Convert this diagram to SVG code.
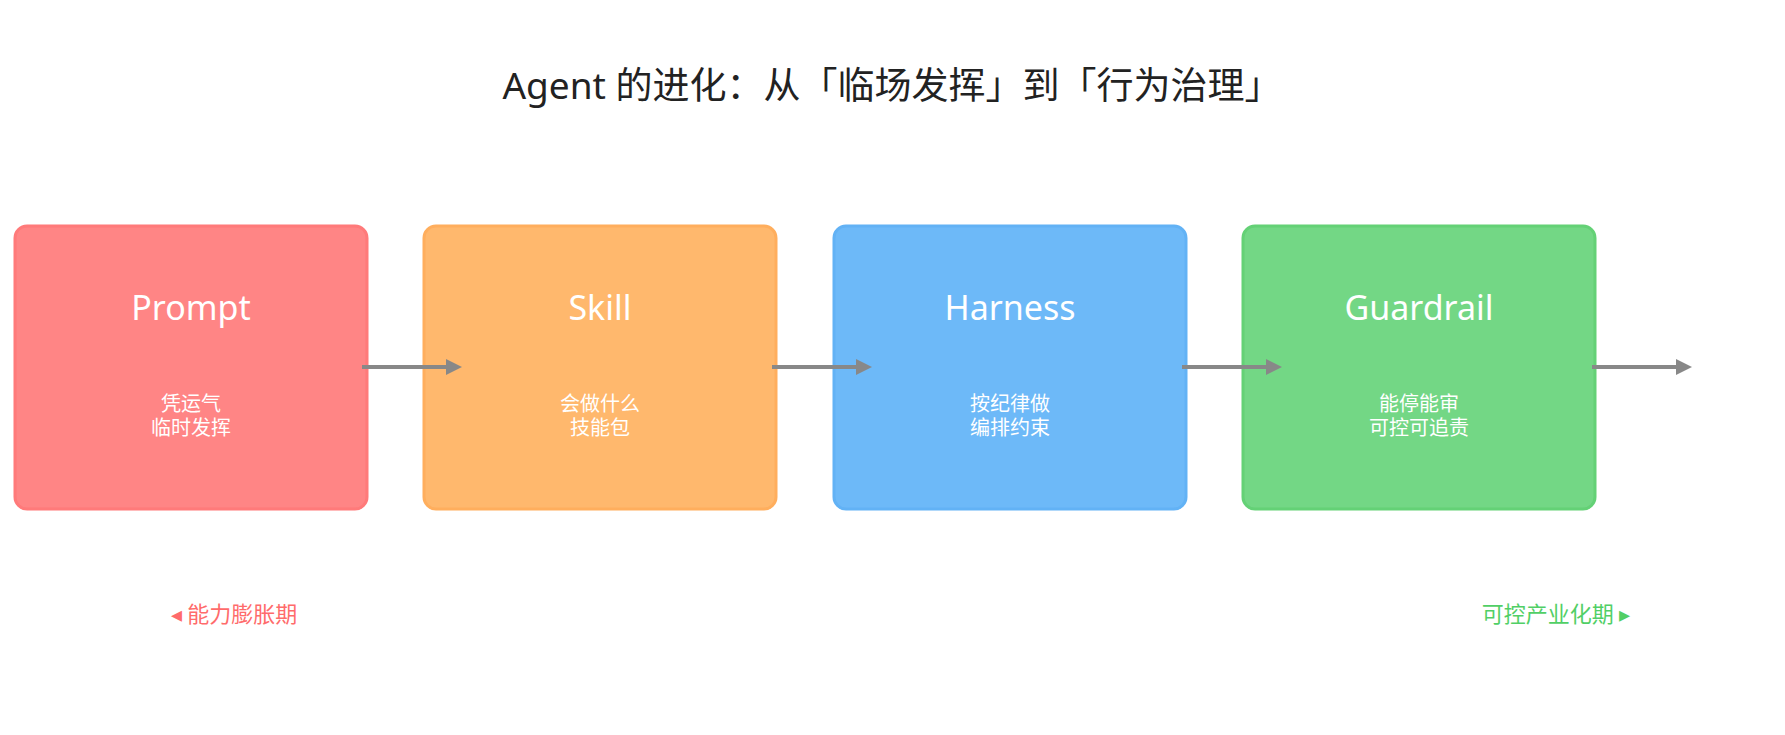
<svg xmlns="http://www.w3.org/2000/svg" width="1785" height="735" viewBox="0 0 1785 735">
<defs>
<style>
text{font-family:"Noto Sans","Noto Sans CJK SC",sans-serif;text-anchor:middle}
.box{stroke-width:3;opacity:0.95}
.t{fill:#fff;font-size:34px}
.s{fill:#fff;font-size:20px}
.c{stroke:#888;stroke-width:4;fill:none;marker-end:url(#ah)}
</style>
<marker id="ah" markerWidth="4" markerHeight="4" refX="3" refY="2" orient="auto"><path d="M0,0 L4,2 L0,4 z" fill="#888"/></marker>
</defs>
<rect width="1785" height="735" fill="#fff"/>
<text x="892" y="99" style="font-size:37px;fill:#222">Agent 的进化：从「临场发挥」到「行为治理」</text>
<g id="prompt"><rect class="box" x="15" y="226" width="352" height="283" rx="12" fill="#FF7F7F" stroke="#FF7373"/><text class="t" x="191" y="320">Prompt</text><text class="s" x="191" y="411">凭运气</text><text class="s" x="191" y="435">临时发挥</text></g>
<g id="skill"><rect class="box" x="424" y="226" width="352" height="283" rx="12" fill="#FFB566" stroke="#FFAA55"/><text class="t" x="600" y="320">Skill</text><text class="s" x="600" y="411">会做什么</text><text class="s" x="600" y="435">技能包</text></g>
<g id="harness"><rect class="box" x="834" y="226" width="352" height="283" rx="12" fill="#66B6F8" stroke="#5AAEF5"/><text class="t" x="1010" y="320">Harness</text><text class="s" x="1010" y="411">按纪律做</text><text class="s" x="1010" y="435">编排约束</text></g>
<g id="guardrail"><rect class="box" x="1243" y="226" width="352" height="283" rx="12" fill="#6CD57F" stroke="#5CCF6F"/><text class="t" x="1419" y="320">Guardrail</text><text class="s" x="1419" y="411">能停能审</text><text class="s" x="1419" y="435">可控可追责</text></g>
<g id="connectors">
<line class="c" x1="362" y1="367" x2="458" y2="367"/>
<line class="c" x1="772" y1="367" x2="868" y2="367"/>
<line class="c" x1="1182" y1="367" x2="1278" y2="367"/>
<line class="c" x1="1592" y1="367" x2="1688" y2="367"/>
</g>
<text x="234" y="622" style="font-size:22px;fill:#FF6B6B">◂ 能力膨胀期</text>
<text x="1556" y="622" style="font-size:22px;fill:#51CF66">可控产业化期 ▸</text>
</svg>
